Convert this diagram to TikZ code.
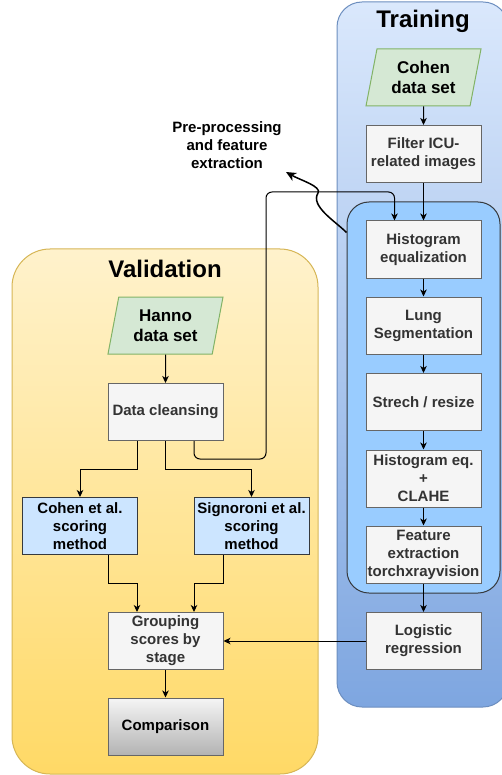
\documentclass[tikz,border=0pt]{standalone}
\usepackage{fontspec}
\setmainfont{Liberation Sans}
\usepackage{xcolor}
\usepackage{tikz}
\usetikzlibrary{shapes.geometric, arrows.meta, calc}
\definecolor{traintop}{HTML}{DAE8FC}
\definecolor{trainbottom}{HTML}{7EA6E0}
\definecolor{trainline}{HTML}{6C8EBF}
\definecolor{pipefill}{HTML}{99CCFF}
\definecolor{darkline}{HTML}{36393D}
\definecolor{validtop}{HTML}{FFF2CC}
\definecolor{validbottom}{HTML}{FFD966}
\definecolor{validline}{HTML}{D6B656}
\definecolor{datafill}{HTML}{D5E8D4}
\definecolor{dataline}{HTML}{82B366}
\definecolor{procfill}{HTML}{F5F5F5}
\definecolor{procline}{HTML}{666666}
\definecolor{proctext}{HTML}{333333}
\definecolor{scorefill}{HTML}{CCE5FF}
\definecolor{comparebottom}{HTML}{B3B3B3}

\begin{document}
\begin{tikzpicture}[x=1pt, y=-1pt,
    boxtext/.style={font=\fontsize{15}{18}\selectfont\bfseries, align=center},
    procbox/.style={boxtext, draw=procline, fill=procfill, text=proctext, line width=1pt, minimum width=115pt, minimum height=57pt, inner sep=0pt},
    scorebox/.style={procbox, draw=darkline, fill=scorefill, text=black},
    comparebox/.style={boxtext, draw=procline, top color=procfill, bottom color=comparebottom, text=black, line width=1pt, minimum width=115pt, minimum height=57pt, inner sep=0pt},
    databox/.style={font=\fontsize{17}{20.5}\selectfont\bfseries, align=center, trapezium, trapezium left angle=71.6, trapezium right angle=108.4, trapezium stretches body, draw=dataline, fill=datafill, line width=1pt, minimum width=115pt, minimum height=57pt, inner sep=0pt},
    flow/.style={line width=1pt, -{Stealth[length=7pt,width=6.5pt,inset=2pt]}},
    title/.style={font=\fontsize{24}{28}\selectfont\bfseries, anchor=base}]
    \useasboundingbox (0,0) rectangle (501,775);
    % Training column
    \draw[draw=trainline, line width=1pt, rounded corners=25pt, top color=traintop, bottom color=trainbottom] (337,2) rectangle (508,707);
    \node[draw=darkline, fill=pipefill, line width=1pt, rounded corners=22pt, minimum width=153pt, minimum height=391pt] (pipeline) at (423.5,397.5) {};
    % Validation column
    \draw[draw=validline, line width=1pt, rounded corners=38pt, top color=validtop, bottom color=validbottom] (12,249) rectangle (318,774);

    \node[title] (traintitle) at (423,28) {Training};
    \node[title] (validtitle) at (165,277) {Validation};

    \node[databox] (cohendata) at (423.5,77.5) {Cohen\\data set};
    \node[procbox] (filter) at (423.5,154) {Filter ICU-\\related images};
    \node[procbox] (histeq) at (423.5,249.5) {Histogram\\equalization};
    \node[procbox] (lungseg) at (423.5,325.5) {Lung\\Segmentation};
    \node[procbox] (stretch) at (423.5,402) {Strech / resize};
    \node[procbox] (clahe) at (423.5,478.5) {Histogram eq.\\+\\CLAHE};
    \node[procbox] (feature) at (423.5,554.5) {Feature\\extraction\\torchxrayvision};
    \node[procbox] (logreg) at (423.5,641) {Logistic\\regression};

    \node[databox] (hanno) at (165.5,325.5) {Hanno\\data set};
    \node[procbox] (clean) at (165.5,412) {Data cleansing};
    \node[scorebox] (cohenscore) at (80,526) {Cohen et al.\\scoring\\method};
    \node[scorebox] (signoroni) at (251.5,526) {Signoroni et al.\\scoring\\method};
    \node[procbox] (grouping) at (165.5,641) {Grouping\\scores by\\stage};
    \node[comparebox] (compare) at (165.5,726.5) {Comparison};

    \node[boxtext] (prelabel) at (227,145) {Pre-processing\\and feature\\extraction};
    \coordinate (labeltip) at (286,172);

    % connectors
    \draw[flow, rounded corners=6pt] ([xshift=28.5pt]clean.south) -- ++(0,18) -| (266,192) -| ([xshift=-29pt]histeq.north);
    \draw[flow] (cohendata) -- (filter);
    \foreach \a/\b in {filter/histeq, histeq/lungseg, lungseg/stretch, stretch/clahe, clahe/feature, feature/logreg}
        \draw[flow] (\a) -- (\b);
    \draw[flow] (hanno) -- (clean);
    \draw[flow] ([xshift=-28.5pt]clean.south) -- ++(0,28) -| (cohenscore.north);
    \draw[flow] (clean.south) -- ++(0,28) -| (signoroni.north);
    \draw[flow] ([xshift=28pt]cohenscore.south) -- ++(0,28) -| ([xshift=-28.5pt]grouping.north);
    \draw[flow] ([xshift=-28.5pt]signoroni.south) -- ++(0,28) -| ([xshift=28.5pt]grouping.north);
    \draw[flow] (logreg) -- (grouping);
    \draw[flow] (grouping) -- (compare);
    \draw[line width=1.5pt, -{Stealth[length=10pt,width=9pt,inset=3pt]}] ($(pipeline.north west)+(0,31)$) .. controls (335,221) and (310,206) .. (318,193) .. controls (322,186.5) and (300,180) .. (labeltip);
\end{tikzpicture}
\end{document}
